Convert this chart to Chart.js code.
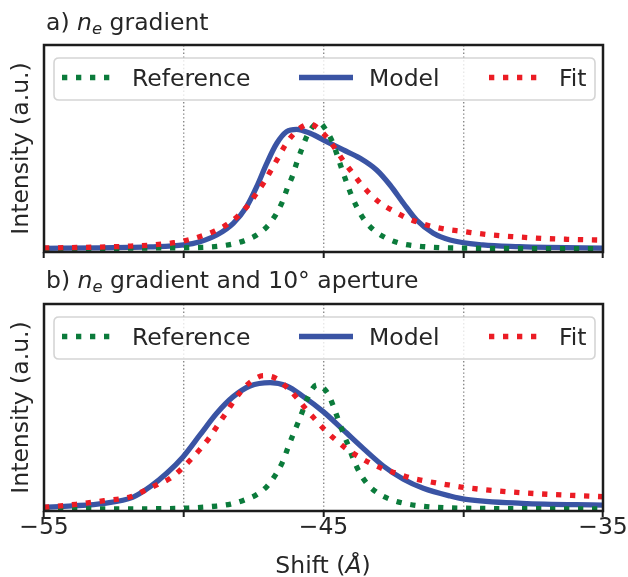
<!DOCTYPE html>
<html>
<head>
<meta charset="utf-8">
<script src="https://cdn.jsdelivr.net/npm/chart.js@4/dist/chart.umd.min.js"></script>
<style>
  html, body { margin: 0; padding: 0; background: #fff; }
  #wrap { position: relative; width: 628px; height: 577px; overflow: hidden; background: #fff; }
  canvas { position: absolute; left: 0; top: 0; }
  .txt { position: absolute; font-family: "DejaVu Sans", sans-serif; font-size: 23.5px; line-height: 23.5px; color: #262626; white-space: nowrap; }
  .sb { font-style: italic; font-size: 0.7em; position: relative; top: 0.25em; }
</style>
</head>
<body>
<div id="wrap">
  <canvas id="ca" width="628" height="577"></canvas>
  <canvas id="cb" width="628" height="577"></canvas>
  <div class="txt" style="left:46px;top:10.5px">a) <i>n</i><span class="sb">e</span> gradient</div>
  <div class="txt" style="left:46px;top:268.5px">b) <i>n</i><span class="sb">e</span> gradient and 10° aperture</div>
  <div class="txt" style="left:0;width:646px;text-align:center;top:553.5px">Shift (<i>Å</i>)</div>
</div>
<script>
// ---------- data ----------
const xTicks = [-55, -50, -45, -40, -35];
const labeledTicks = [-55, -45, -35];
const seriesNames = ['Reference', 'Model', 'Fit'];

// Panel a) n_e gradient
const aRefX = [-55, -53, -51, -49.3, -48.3, -47.83, -47.39, -47.0, -46.7, -46.47, -46.3, -46.1, -45.95, -45.77, -45.58, -45.3, -45.15, -44.91, -44.67, -44.5, -44.34, -44.17, -43.99, -43.78, -43.52, -43.16, -42.74, -42.26, -41.76, -41.25, -40.74, -39, -37, -35];
const aRefY = [0.002, 0.004, 0.008, 0.013, 0.037, 0.066, 0.111, 0.183, 0.275, 0.375, 0.479, 0.585, 0.69, 0.797, 0.902, 0.99, 1.0, 0.944, 0.844, 0.738, 0.632, 0.526, 0.42, 0.32, 0.225, 0.143, 0.085, 0.045, 0.026, 0.016, 0.01, 0.005, 0.003, 0.002];

const aModelX = [-55, -53, -52, -51.2, -50.0, -49.42, -48.82, -48.23, -47.75, -47.39, -47.03, -46.67, -46.32, -45.96, -45.48, -44.89, -44.29, -43.69, -43.1, -42.62, -42.14, -41.67, -41.07, -40.47, -39.3, -38, -37, -35];
const aModelY = [0.005, 0.009, 0.012, 0.016, 0.032, 0.058, 0.111, 0.204, 0.336, 0.494, 0.68, 0.839, 0.931, 0.95, 0.918, 0.852, 0.786, 0.72, 0.627, 0.508, 0.363, 0.23, 0.125, 0.071, 0.032, 0.018, 0.012, 0.007];

const aFitX = [-55, -54, -53, -52, -51, -50.34, -49.86, -49.36, -48.88, -48.44, -48.05, -47.71, -47.42, -47.13, -46.88, -46.62, -46.38, -46.08, -45.7, -45.45, -45.24, -44.85, -44.55, -44.27, -43.97, -43.66, -43.31, -42.92, -42.5, -42.05, -41.58, -41.09, -40.62, -40.05, -39.04, -38.0, -37.2, -36.3, -35];
const aFitY = [0.008, 0.011, 0.015, 0.022, 0.034, 0.05, 0.071, 0.103, 0.143, 0.196, 0.264, 0.344, 0.434, 0.529, 0.624, 0.725, 0.82, 0.91, 0.979, 0.99, 0.966, 0.878, 0.786, 0.693, 0.606, 0.516, 0.431, 0.357, 0.302, 0.249, 0.209, 0.177, 0.156, 0.14, 0.112, 0.095, 0.084, 0.077, 0.07];

// Panel b) n_e gradient and 10 deg aperture
const bRefX = [-55, -53, -51, -49.84, -48.82, -48.32, -47.83, -47.37, -47.0, -46.7, -46.46, -46.28, -46.1, -45.9, -45.72, -45.54, -45.24, -44.85, -44.65, -44.47, -44.29, -44.11, -43.93, -43.72, -43.43, -43.05, -42.62, -42.12, -41.61, -41.11, -40.62, -39, -37, -35];
const bRefY = [0.0, 0.0, 0.002, 0.008, 0.024, 0.04, 0.073, 0.119, 0.188, 0.282, 0.381, 0.489, 0.594, 0.702, 0.806, 0.911, 1.0, 0.933, 0.831, 0.718, 0.61, 0.508, 0.401, 0.298, 0.202, 0.127, 0.078, 0.046, 0.027, 0.016, 0.01, 0.004, 0.002, 0.001];

const bModelX = [-55, -54, -52.85, -51.83, -51.2, -50.61, -50.02, -49.42, -48.82, -48.23, -47.63, -46.91, -46.32, -45.72, -45.01, -44.29, -43.58, -42.86, -42.14, -41.43, -40.47, -39.9, -37.9, -35];
const bModelY = [0.014, 0.025, 0.046, 0.094, 0.18, 0.288, 0.422, 0.597, 0.772, 0.906, 0.992, 1.019, 0.992, 0.906, 0.785, 0.637, 0.489, 0.347, 0.24, 0.167, 0.105, 0.078, 0.046, 0.032];

const bFitX = [-55, -53.85, -52.85, -51.9, -51.4, -50.97, -50.49, -50.1, -49.74, -49.42, -49.1, -48.82, -48.52, -48.25, -47.96, -47.6, -47.15, -46.7, -46.3, -45.94, -45.63, -45.28, -44.95, -44.56, -44.17, -43.75, -43.31, -42.86, -42.38, -41.91, -41.4, -40.89, -40.53, -39.9, -37.9, -35];
const bFitY = [0.014, 0.038, 0.067, 0.099, 0.148, 0.194, 0.247, 0.32, 0.401, 0.481, 0.57, 0.664, 0.764, 0.857, 0.946, 1.027, 1.075, 1.054, 0.978, 0.893, 0.806, 0.718, 0.637, 0.556, 0.484, 0.422, 0.368, 0.323, 0.288, 0.252, 0.228, 0.207, 0.194, 0.172, 0.131, 0.099];

// ---------- styling ----------
const GREEN = '#0b7b3b', BLUE = '#3a54a4', RED = '#eb1c24';
const TEXT = '#262626';
const FONT = '"DejaVu Sans", sans-serif';
const FS = 23.5;

const pts = (xs, ys) => xs.map((x, i) => ({ x: x, y: ys[i] }));

function datasets(refX, refY, modX, modY, fitX, fitY) {
  const common = { pointRadius: 0, pointHoverRadius: 0, fill: false, cubicInterpolationMode: 'monotone', borderCapStyle: 'butt' };
  return [
    Object.assign({ label: seriesNames[0], data: pts(refX, refY), borderColor: GREEN, borderWidth: 5.3, borderDash: [5.3, 8.7], order: 1 }, common),
    Object.assign({ label: seriesNames[1], data: pts(modX, modY), borderColor: BLUE, borderWidth: 5.3, borderDash: [], order: 2 }, common),
    Object.assign({ label: seriesNames[2], data: pts(fitX, fitY), borderColor: RED, borderWidth: 5.3, borderDash: [5.3, 8.7], order: 0 }, common)
  ];
}

const frameLegend = {
  id: 'frameLegend',
  afterDatasetsDraw(chart) {
    const ctx = chart.ctx, a = chart.chartArea;
    ctx.save();
    // axes frame
    ctx.setLineDash([]);
    ctx.strokeStyle = '#1c1c1c';
    ctx.lineWidth = 2.5;
    ctx.strokeRect(a.left, a.top, a.right - a.left, a.bottom - a.top);
    // legend box
    const L = a.left + 10, R = a.right - 8, T = a.top + 13, B = a.top + 55, r = 5;
    ctx.beginPath();
    ctx.moveTo(L + r, T);
    ctx.lineTo(R - r, T); ctx.quadraticCurveTo(R, T, R, T + r);
    ctx.lineTo(R, B - r); ctx.quadraticCurveTo(R, B, R - r, B);
    ctx.lineTo(L + r, B); ctx.quadraticCurveTo(L, B, L, B - r);
    ctx.lineTo(L, T + r); ctx.quadraticCurveTo(L, T, L + r, T);
    ctx.closePath();
    ctx.fillStyle = 'rgba(255,255,255,0.8)';
    ctx.fill();
    ctx.strokeStyle = 'rgba(204,204,204,0.85)';
    ctx.lineWidth = 1.6;
    ctx.stroke();
    // legend entries
    const starts = [18, 255, 445];
    const lens = [50, 54, 50];
    const lineY = a.top + 32.5, textY = a.top + 40.7;
    ctx.font = FS + 'px ' + FONT;
    ctx.textBaseline = 'alphabetic';
    ctx.textAlign = 'left';
    chart.data.datasets.forEach((ds, i) => {
      const x0 = a.left + starts[i];
      ctx.beginPath();
      ctx.setLineDash(ds.borderDash || []);
      ctx.lineCap = 'butt';
      ctx.strokeStyle = ds.borderColor;
      ctx.lineWidth = ds.borderWidth;
      ctx.moveTo(x0, lineY);
      ctx.lineTo(x0 + lens[i], lineY);
      ctx.stroke();
      ctx.setLineDash([]);
      ctx.fillStyle = TEXT;
      ctx.fillText(ds.label, x0 + 70, textY);
    });
    ctx.restore();
  }
};

function makeChart(id, ds, yMin, yMax, padTop, showLabels) {
  const xAxisH = showLabels ? 40 : 10;
  const areaBottom = padTop + 207;
  return new Chart(document.getElementById(id), {
    type: 'line',
    data: { datasets: ds },
    plugins: [frameLegend],
    options: {
      responsive: false,
      animation: false,
      devicePixelRatio: 1,
      layout: { padding: { left: 0, right: 25, top: padTop, bottom: 577 - areaBottom - xAxisH } },
      plugins: { legend: { display: false }, tooltip: { enabled: false }, title: { display: false } },
      scales: {
        x: {
          type: 'linear',
          min: -55, max: -35,
          afterBuildTicks: (s) => { s.ticks = xTicks.map(v => ({ value: v })); },
          afterFit: (s) => { s.height = xAxisH; },
          ticks: {
            autoSkip: false,
            maxRotation: 0,
            padding: -3,
            color: TEXT,
            font: { family: FONT, size: FS },
            callback: (v) => (showLabels && labeledTicks.includes(v)) ? ('\u2212' + Math.abs(v)) : ''
          },
          grid: {
            display: true,
            color: '#8a8a8a',
            lineWidth: 1.4,
            drawTicks: true,
            tickLength: 6,
            tickWidth: 2,
            tickColor: '#1c1c1c'
          },
          border: { display: false, dash: [1.4, 2.4] }
        },
        y: {
          min: yMin, max: yMax,
          afterFit: (s) => { s.width = 44; },
          ticks: { display: false },
          grid: { display: false },
          border: { display: false },
          title: {
            display: true,
            text: 'Intensity (a.u.)',
            color: TEXT,
            font: { family: FONT, size: FS },
            padding: { top: 8, bottom: 0 }
          }
        }
      }
    }
  });
}

makeChart('ca', datasets(aRefX, aRefY, aModelX, aModelY, aFitX, aFitY), -0.024, 1.619, 45, false);
makeChart('cb', datasets(bRefX, bRefY, bModelX, bModelY, bFitX, bFitY), -0.016, 1.653, 304, true);
</script>
</body>
</html>
